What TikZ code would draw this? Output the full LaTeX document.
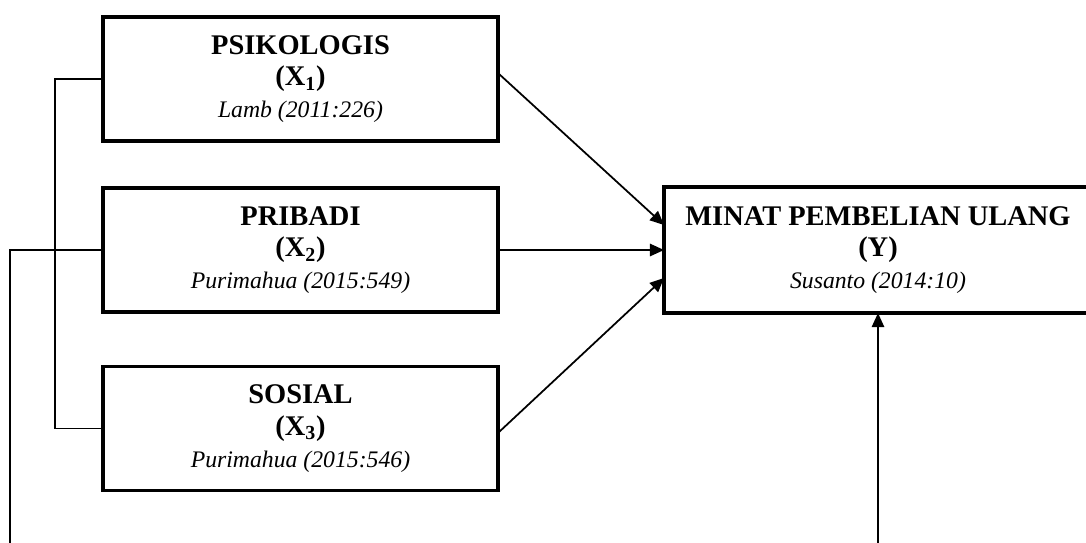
\documentclass[tikz,border=0pt]{standalone}
\usepackage{fontspec}
\setmainfont{Liberation Serif}
\usetikzlibrary{arrows.meta}
\begin{document}
\begin{tikzpicture}[x=0.02cm,y=-0.02cm,
    varbox/.style={draw,line width=2pt,inner sep=0pt,outer sep=0pt,align=center,
        minimum width=7.9cm,minimum height=2.48cm,font=\fontsize{16.2}{18}\selectfont\bfseries},
    link/.style={line width=1pt},
    arrow/.style={link,-{Triangle[length=8pt,width=7pt]}}]
                \clip (0,0) rectangle (1086,542);
                \node[varbox] (psi) at (300.5,79) {PSIKOLOGIS\\(X\textsubscript{1})\\{\mdseries\itshape\fontsize{13.5}{18}\selectfont Lamb (2011:226)}};
                \node[varbox] (pri) at (300.5,250) {PRIBADI\\(X\textsubscript{2})\\{\mdseries\itshape\fontsize{13.5}{18}\selectfont Purimahua (2015:549)}};
                \node[varbox] (sos) at (300.5,428.5) {SOSIAL\\(X\textsubscript{3})\\{\mdseries\itshape\fontsize{13.5}{18}\selectfont Purimahua (2015:546)}};
                \node[varbox,minimum width=8.56cm,minimum height=2.52cm] (minat) at (878,250) {MINAT PEMBELIAN ULANG\\(Y)\\{\mdseries\itshape\fontsize{13.5}{18}\selectfont Susanto (2014:10)}};
                \coordinate (leftend) at (10,560);
                \coordinate (rightend) at (878,560);
                \draw[arrow] ([yshift=0.12cm]psi.east) -- ([yshift=0.5cm]minat.west);
                \draw[arrow] (pri.east) -- (minat.west);
                \draw[arrow] ([yshift=-0.09cm]sos.east) -- ([yshift=-0.56cm]minat.west);
                \draw[link] (psi.west) -- ++(-48,0) |- (sos.west);
                \draw[link] (pri.west) -| (leftend);
                \draw[arrow] (rightend) -- (minat.south);
            \end{tikzpicture}
\end{document}
